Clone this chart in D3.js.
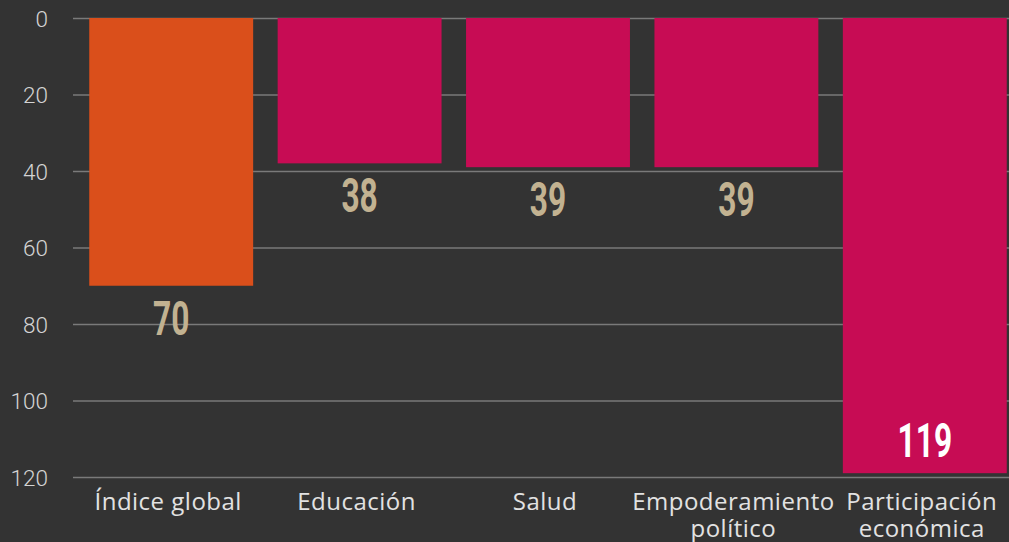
<!DOCTYPE html>
<html>
<head>
<meta charset="utf-8">
<script src="https://cdn.jsdelivr.net/npm/d3@7"></script>
<style>
  html, body { margin: 0; padding: 0; background: #333333; }
  svg { display: block; }
</style>
</head>
<body>
<script>
// ranking positions (lower is better)
var categories = ['Índice global', 'Educación', 'Salud', 'Empoderamiento político', 'Participación económica'];
var ranks = [70, 38, 39, 39, 119];
var yTicks = [0, 20, 40, 60, 80, 100, 120];

var W = 1009, H = 542;

var svg = d3.select('body').append('svg')
  .attr('width', W)
  .attr('height', H);

var x = d3.scaleBand()
  .domain(categories)
  .range([77, 1019])
  .paddingInner(0.13)
  .paddingOuter(0.065);

var y = d3.scaleLinear()
  .domain([0, 120])
  .range([18, 477]);

var color = d3.scaleOrdinal()
  .domain(categories)
  .range(['#DA4F1B', '#C70C54', '#C70C54', '#C70C54', '#C70C54']);

// grid + y labels
var yAxis = d3.axisLeft(y)
  .tickValues(yTicks)
  .tickSize(-(W - 73))
  .tickPadding(25);

var gy = svg.append('g')
  .attr('transform', 'translate(73,0)')
  .call(yAxis);
gy.select('.domain').remove();
gy.selectAll('.tick line')
  .attr('stroke', '#7a7a7a')
  .attr('stroke-width', 1.5);
gy.selectAll('.tick text')
  .attr('fill', '#d4d4d4')
  .attr('font-family', 'Roboto, sans-serif')
  .attr('font-weight', 300)
  .attr('font-size', 22.5)
  .attr('dy', '0.36em');

// bars
svg.selectAll('rect.bar')
  .data(ranks)
  .enter().append('rect')
  .attr('class', 'bar')
  .attr('x', function (d, i) { return x(categories[i]); })
  .attr('y', y(0))
  .attr('width', x.bandwidth())
  .attr('height', function (d) { return y(d) - y(0); })
  .attr('fill', function (d, i) { return color(categories[i]); });

// value labels (condensed look by squeezing horizontally)
var inside = function (d) { return y(d) + 50 > y(120); };
svg.selectAll('text.val')
  .data(ranks)
  .enter().append('text')
  .attr('class', 'val')
  .attr('transform', function (d, i) {
    var cx = x(categories[i]) + x.bandwidth() / 2;
    var by = inside(d) ? y(d) - 16 : y(d) + 49;
    return 'translate(' + cx + ',' + by + ') scale(0.66,1)';
  })
  .attr('text-anchor', 'middle')
  .attr('fill', function (d) { return inside(d) ? '#ffffff' : '#C2B291'; })
  .attr('font-family', 'Roboto, sans-serif')
  .attr('font-weight', 'bold')
  .attr('font-size', 48)
  .text(function (d) { return d; });

// category labels
var gx = svg.append('g');
gx.selectAll('text')
  .data(categories)
  .enter().append('text')
  .attr('x', function (d) { return x(d) + x.bandwidth() / 2 - 3; })
  .attr('y', 510)
  .attr('text-anchor', 'middle')
  .attr('fill', '#e2e2e2')
  .attr('font-family', '"Open Sans", sans-serif')
  .attr('font-size', 24)
  .attr('letter-spacing', 0.5)
  .text(function (d) { return d; })
  .each(function (d) { wrap(d3.select(this), x.bandwidth() + 10); });

function wrap(text, width) {
  var words = text.text().split(/\s+/),
      cx = text.attr('x'),
      line = [],
      tspan = text.text(null).append('tspan').attr('x', cx);
  words.forEach(function (w) {
    line.push(w);
    tspan.text(line.join(' '));
    if (tspan.node().getComputedTextLength() > width && line.length > 1) {
      line.pop();
      tspan.text(line.join(' '));
      line = [w];
      tspan = text.append('tspan').attr('x', cx).attr('dy', 27).text(w);
    }
  });
}
</script>
</body>
</html>
